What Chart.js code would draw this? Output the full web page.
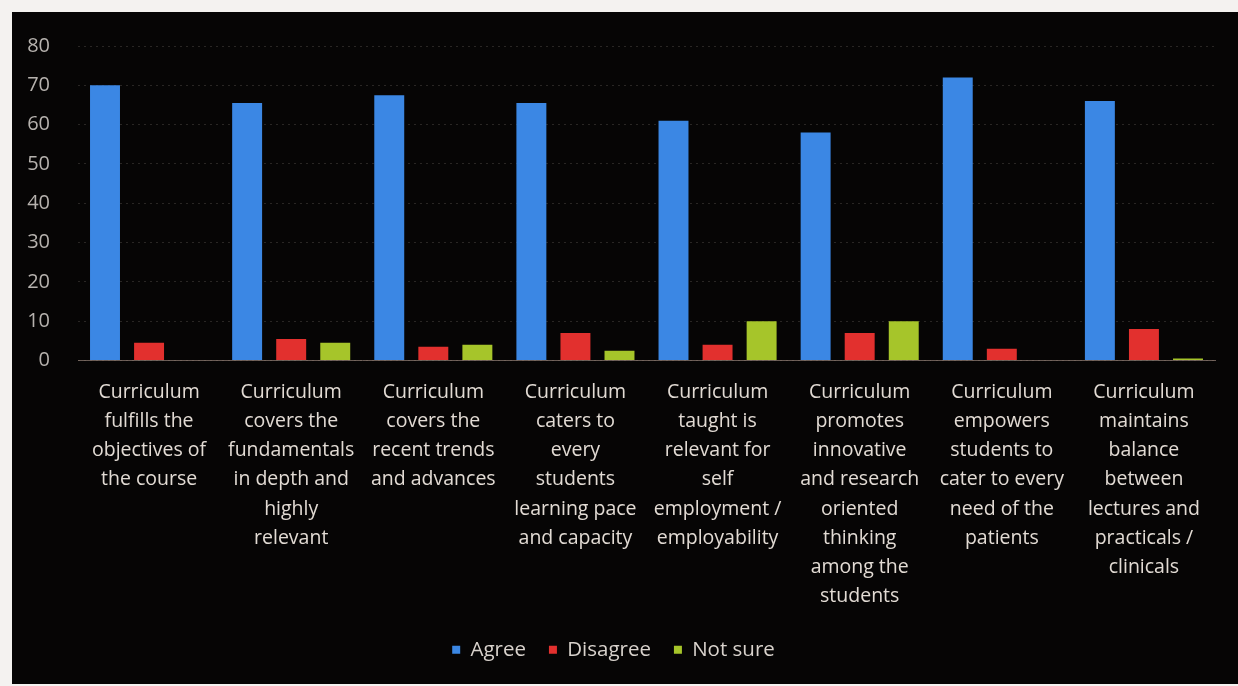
<!DOCTYPE html>
<html>
<head>
<meta charset="utf-8">
<script src="https://cdn.jsdelivr.net/npm/chart.js@4.4.0/dist/chart.umd.min.js"></script>
<style>
  html, body { margin: 0; padding: 0; background: #f4f2f0; width: 1238px; height: 686px; overflow: hidden; }
  #wrap { position: absolute; left: 12px; top: 12px; width: 1226px; height: 672px; background: #060505; }
  canvas { display: block; }
</style>
</head>
<body>
<div id="wrap"><canvas id="c" width="1226" height="672"></canvas></div>
<script>
const categories = [
  ["Curriculum", "fulfills the", "objectives of", "the course"],
  ["Curriculum", "covers the", "fundamentals", "in depth and", "highly", "relevant"],
  ["Curriculum", "covers the", "recent trends", "and advances"],
  ["Curriculum", "caters to", "every", "students", "learning pace", "and capacity"],
  ["Curriculum", "taught is", "relevant for", "self", "employment /", "employability"],
  ["Curriculum", "promotes", "innovative", "and research", "oriented", "thinking", "among the", "students"],
  ["Curriculum", "empowers", "students to", "cater to every", "need of the", "patients"],
  ["Curriculum", "maintains", "balance", "between", "lectures and", "practicals /", "clinicals"]
];
const agree    = [70, 65.5, 67.5, 65.5, 61, 58, 72, 66];
const disagree = [4.5, 5.5, 3.5, 7, 4, 7, 3, 8];
const notSure  = [0, 4.5, 4, 2.5, 10, 10, 0, 0.5];
const yTicks   = [0, 10, 20, 30, 40, 50, 60, 70, 80];

const FONT = "'Open Sans', Lato, sans-serif";

new Chart(document.getElementById('c'), {
  type: 'bar',
  data: {
    labels: categories,
    datasets: [
      { label: 'Agree', data: agree, backgroundColor: '#3b87e4' },
      { label: 'Disagree', data: disagree, backgroundColor: '#e2302e' },
      { label: 'Not sure', data: notSure, backgroundColor: '#a6c52a' }
    ]
  },
  options: {
    responsive: false,
    animation: false,
    devicePixelRatio: 1,
    categoryPercentage: 0.93,
    barPercentage: 0.68,
    layout: { padding: { top: 10, left: 0, right: 23, bottom: 14 } },
    plugins: {
      tooltip: { enabled: false },
      legend: {
        position: 'bottom',
        labels: {
          color: '#d8d2cc',
          font: { family: FONT, size: 20.5 },
          boxWidth: 8,
          boxHeight: 8,
          padding: 23
        }
      }
    },
    scales: {
      x: {
        grid: { display: false, drawTicks: false },
        border: { display: true, color: 'rgba(150,130,120,0.7)', dash: [2, 2], width: 1 },
        ticks: {
          color: '#e2dbd4',
          font: { family: FONT, size: 19.5, lineHeight: 1.5 },
          padding: 17,
          maxRotation: 0,
          autoSkip: false
        },
        afterFit: (s) => { s.height = 256; }
      },
      y: {
        min: 0,
        max: 80,
        afterBuildTicks: (s) => { s.ticks = yTicks.map(v => ({ value: v })); },
        grid: { color: 'rgba(170,160,150,0.22)', drawTicks: false, lineWidth: 1 },
        border: { display: false, dash: [2, 4] },
        ticks: {
          color: '#b6b2ae',
          font: { family: FONT, size: 20, lineHeight: 0.6 },
          padding: 28
        },
        afterFit: (s) => { s.width = 66; }
      }
    }
  }
});
</script>
</body>
</html>
